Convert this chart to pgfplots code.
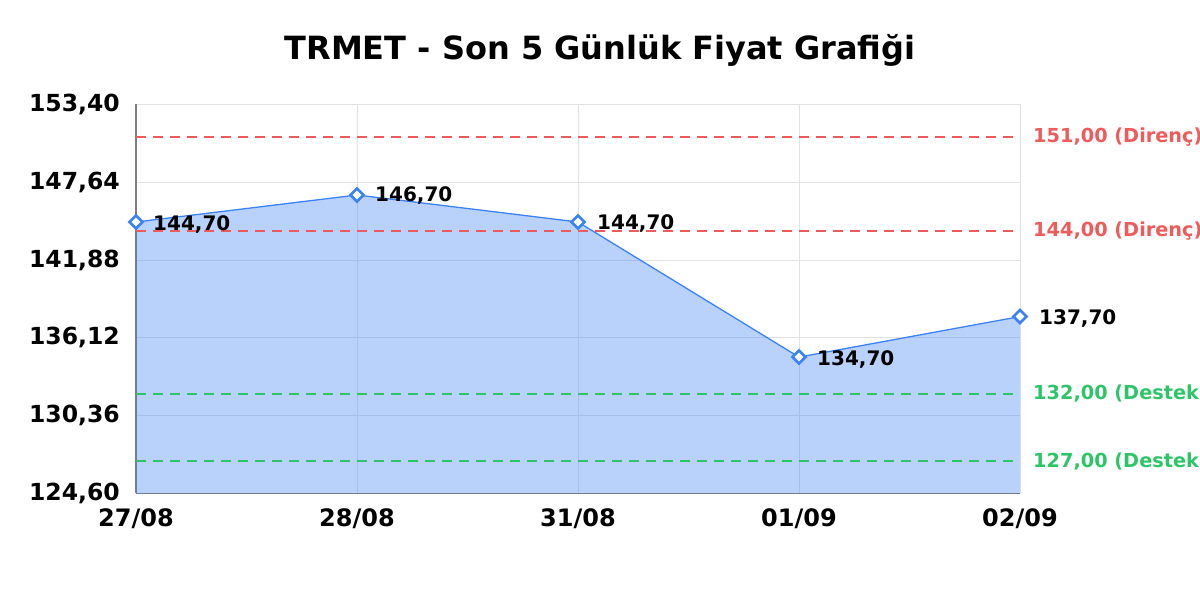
\documentclass[border=0pt]{standalone}
\usepackage{fontspec}
\setmainfont{DejaVu Sans}
\usepackage{pgfplots}
\pgfplotsset{compat=1.18}
\usepackage{pgfplotstable}
\definecolor{lineblue}{RGB}{59,130,246}
\definecolor{resred}{RGB}{239,90,90}
\definecolor{supgreen}{RGB}{46,197,104}
\definecolor{gridgray}{RGB}{226,226,226}
\definecolor{axisgray}{RGB}{125,125,125}

\pgfplotstableread{
x y
0 144.70
1 146.70
2 144.70
3 134.70
4 137.70
}\pricedata

\pgfplotstableread{
x y
0 124.60
0 144.70
1 146.70
2 144.70
3 134.70
4 137.70
4 124.60
}\areadata

\pgfplotstableread{
x r1 r2 s1 s2
0 151.0 144.0 132.0 127.0
4 151.0 144.0 132.0 127.0
}\leveldata

\begin{document}
\begin{tikzpicture}[x=1pt,y=1pt]
\useasboundingbox (0,0) rectangle (1200,600);
\node[anchor=base, inner sep=0pt, font=\fontsize{32}{37}\selectfont\bfseries] at (600,540) {TRMET - Son 5 Günlük Fiyat Grafiği};
\begin{axis}[
  at={(136pt,106.5pt)}, anchor=south west,
  scale only axis, width=884pt, height=389pt,
  xmin=0, xmax=4, ymin=124.6, ymax=153.4,
  xtick={0,1,2,3,4},
  xticklabels={27/08,28/08,31/08,01/09,02/09},
  ytick={124.6,130.36,136.12,141.88,147.64,153.4},
  yticklabels={{124,60},{130,36},{136,12},{141,88},{147,64},{153,40}},
  grid=major,
  major grid style={draw=gridgray, line width=1pt},
  axis x line*=bottom, axis y line*=left,
  axis line style={draw=axisgray, line width=1.3pt, -},
  major tick length=0pt,
  tick style={draw=none},
  ticklabel style={inner sep=0pt},
  yticklabel style={font=\fontsize{23.5}{27}\selectfont\bfseries, anchor=east, xshift=-16pt},
  xticklabel style={font=\fontsize{24}{28}\selectfont\bfseries, anchor=north, yshift=-15pt},
  clip=false,
]
\addplot[draw=none, fill=lineblue, fill opacity=0.36, mark=none] table[x=x,y=y]{\areadata};

\addplot[draw=resred, line width=2pt, dash pattern=on 10pt off 7pt, mark=none] table[x=x,y=r1]{\leveldata};
\addplot[draw=resred, line width=2pt, dash pattern=on 10pt off 7pt, mark=none] table[x=x,y=r2]{\leveldata};
\addplot[draw=supgreen, line width=2pt, dash pattern=on 10pt off 7pt, mark=none] table[x=x,y=s1]{\leveldata};
\addplot[draw=supgreen, line width=2pt, dash pattern=on 10pt off 7pt, mark=none] table[x=x,y=s2]{\leveldata};

\addplot[draw=lineblue, line width=1.3pt, mark=square*, mark size=4.6pt,
  mark options={rotate=45, fill=white, draw=lineblue, line width=2.6pt, solid}] table[x=x,y=y]{\pricedata};

\begin{scope}[every node/.style={anchor=west, inner sep=0pt, font=\fontsize{20}{24}\selectfont\bfseries}]
\node[xshift=17pt, yshift=-2pt] at (axis cs:0,144.7) {144,70};
\node[xshift=18pt, yshift=-1pt] at (axis cs:1,146.7) {146,70};
\node[xshift=19pt, yshift=-1pt] at (axis cs:2,144.7) {144,70};
\node[xshift=18pt, yshift=-2pt] at (axis cs:3,134.7) {134,70};
\node[xshift=19pt, yshift=-2pt] at (axis cs:4,137.7) {137,70};
\end{scope}
\begin{scope}[every node/.style={anchor=west, inner sep=0pt, font=\fontsize{19.3}{23}\selectfont\bfseries}]
\node[text=resred, xshift=13pt] at (axis cs:4,151) {151,00 (Direnç)};
\node[text=resred, xshift=13pt] at (axis cs:4,144) {144,00 (Direnç)};
\node[text=supgreen, xshift=13pt] at (axis cs:4,132) {132,00 (Destek)};
\node[text=supgreen, xshift=13pt] at (axis cs:4,127) {127,00 (Destek)};
\end{scope}
\end{axis}
\end{tikzpicture}
\end{document}
